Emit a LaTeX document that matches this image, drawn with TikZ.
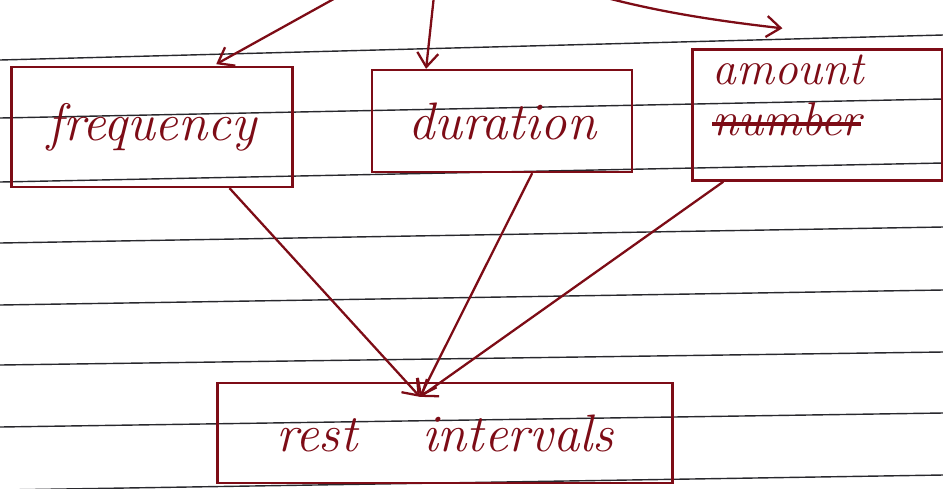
\documentclass[tikz,border=0pt]{standalone}
\usetikzlibrary{arrows.meta,positioning}
\definecolor{ink}{RGB}{125,12,22}
\definecolor{ruling}{RGB}{40,40,45}
\newcommand{\strikeword}[1]{\leavevmode\setbox0\hbox{#1}\rlap{\rule[0.2em]{\wd0}{2pt}}\box0}

\begin{document}
\begin{tikzpicture}[->,>={Straight Barb[length=8pt,width=12pt]},x=0.02cm,y=-0.02cm,
line width=1.3pt,color=ink]
\tikzstyle{box}=[draw=ink,text=ink,rectangle,line width=1.3pt,inner sep=3pt,
font=\fontsize{30}{24}\selectfont\itshape]
\tikzstyle{rule}=[-,draw=ruling,line width=0.8pt]

\useasboundingbox (0,0) rectangle (943,488);
\clip (0,0) rectangle (943,488);

% ruled paper
\foreach \l/\r in {60/35,118/99,182/163,243/227,305/290,365/352,427/413,490/475}
  \draw[rule] (0,\l) -- (943,\r);

\node[box,minimum width=5.62cm,minimum height=2.4cm] (freq) at (152,127) {frequency};
\node[box,minimum width=5.2cm,minimum height=2.04cm,right=1.55cm of freq,yshift=0.12cm] (dur) {duration};
\node[box,minimum width=5cm,minimum height=2.6cm,text width=4.2cm,align=left,
  font=\fontsize{27}{29}\selectfont\itshape,right=1.16cm of dur,yshift=0.12cm] (amount)
  {amount\\\strikeword{number}\rule[-0.8cm]{0pt}{0.8cm}};
\node[box,minimum width=9.1cm,minimum height=2cm] (rest) at (445,433) {rest\hspace{1.3cm}intervals};

% from above
\coordinate (src) at (440,-60);
\path
(src) edge[shorten >=2pt] (freq.45)
(src) edge ([xshift=1.1cm]dur.north west)
(src) edge[bend right=8] ([xshift=-0.7cm,yshift=0.4cm]amount.north);

% into rest intervals
\coordinate (meet) at ([xshift=-0.5cm,yshift=-0.3cm]rest.north);
\path
([xshift=1.55cm]freq.south) edge (meet)
([xshift=0.6cm]dur.south) edge (meet)
([xshift=0.64cm]amount.south west) edge (meet);
\end{tikzpicture}
\end{document}
